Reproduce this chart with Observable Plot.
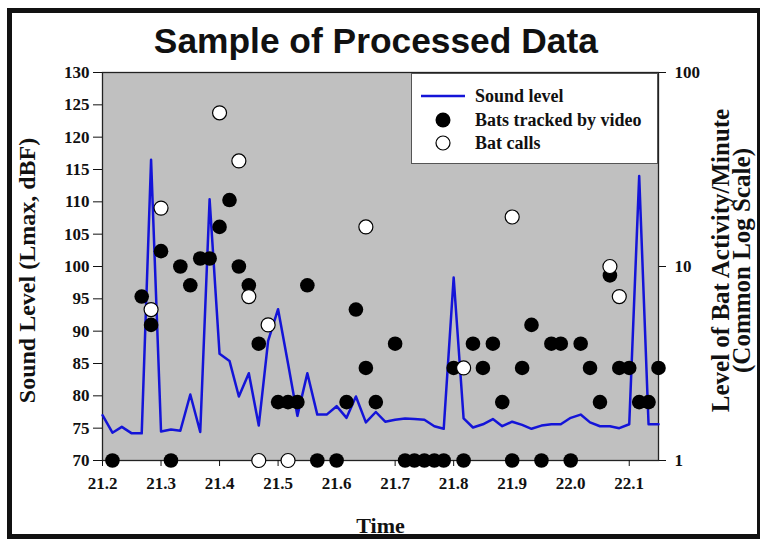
<!DOCTYPE html>
<html>
<head>
<meta charset="utf-8">
<script src="https://cdn.jsdelivr.net/npm/d3@7"></script>
<script src="https://cdn.jsdelivr.net/npm/@observablehq/plot@0.6"></script>
<style>
  html, body { margin: 0; padding: 0; background: #fff; }
  #wrap { position: relative; width: 762px; height: 540px; overflow: hidden; background: #fff; }
  #border { position: absolute; left: 7px; top: 8px; width: 753px; height: 531px; box-sizing: border-box;
            border: 5px solid #111; border-right-width: 3px; pointer-events: none; }
  #title { position: absolute; left: 0; top: 23px; width: 751px; text-align: center;
           font-family: "Liberation Sans", Arial, sans-serif; font-weight: bold; font-size: 35px; line-height: 35px; color: #111; }
  #title span { display: inline-block; transform: scaleX(1.01); }
  #chart { position: absolute; left: 0; top: 62px; }
  #legend { position: absolute; left: 411px; top: 73px; width: 247px; height: 91px; box-sizing: border-box;
            background: #fff; border: 1px solid #555; }
  #legend svg text { font-family: "Liberation Serif", "Times New Roman", serif; font-weight: bold; font-size: 18px; fill: #111; }
</style>
</head>
<body>
<div id="wrap">
  <div id="title"><span>Sample of Processed Data</span></div>
  <div id="chart"></div>
  <div id="legend">
    <svg width="245" height="89">
      <line x1="9" x2="53" y1="22" y2="22" stroke="#1414d8" stroke-width="2.5"></line>
      <circle cx="31" cy="46" r="7.5" fill="#000"></circle>
      <circle cx="31" cy="69" r="7" fill="#fff" stroke="#000" stroke-width="1.2"></circle>
      <text x="63" y="28">Sound level</text>
      <text x="63" y="52">Bats tracked by video</text>
      <text x="63" y="75">Bat calls</text>
    </svg>
  </div>
  <div id="border"></div>
</div>
<script>
// Sound level (Lmax, dBF), one reading per minute
const soundTime = [21.200, 21.217, 21.233, 21.250, 21.267, 21.283, 21.300, 21.317, 21.333, 21.350,
  21.367, 21.383, 21.400, 21.417, 21.433, 21.450, 21.467, 21.483, 21.500, 21.517,
  21.533, 21.550, 21.567, 21.583, 21.600, 21.617, 21.633, 21.650, 21.667, 21.683,
  21.700, 21.717, 21.733, 21.750, 21.767, 21.783, 21.800, 21.817, 21.833, 21.850,
  21.867, 21.883, 21.900, 21.917, 21.933, 21.950, 21.967, 21.983, 22.000, 22.017,
  22.033, 22.050, 22.067, 22.083, 22.100, 22.117, 22.133, 22.150];
const soundLevel = [77.0, 74.3, 75.2, 74.2, 74.2, 116.5, 74.5, 74.8, 74.6, 80.2,
  74.4, 110.4, 86.5, 85.4, 79.9, 83.5, 75.4, 88.5, 93.4, 85.0,
  76.9, 83.5, 77.1, 77.1, 78.4, 76.6, 79.9, 75.9, 77.5, 76.0,
  76.3, 76.5, 76.4, 76.3, 75.3, 74.9, 98.3, 76.5, 75.1, 75.6,
  76.4, 75.3, 76.0, 75.5, 74.9, 75.4, 75.6, 75.6, 76.6, 77.1,
  75.9, 75.3, 75.3, 75.0, 75.6, 114.0, 75.6, 75.6];

// Bats tracked by video (per minute)
const videoTime = [21.217, 21.267, 21.283, 21.300, 21.317, 21.333, 21.350, 21.367, 21.383, 21.400,
  21.417, 21.433, 21.450, 21.467, 21.500, 21.517, 21.533, 21.550, 21.567, 21.600,
  21.617, 21.633, 21.650, 21.667, 21.700, 21.717, 21.733, 21.750, 21.767, 21.783,
  21.800, 21.817, 21.833, 21.850, 21.867, 21.883, 21.900, 21.917, 21.933, 21.950,
  21.967, 21.983, 22.000, 22.017, 22.033, 22.050, 22.067, 22.083, 22.100, 22.117,
  22.133, 22.150];
const videoCount = [1, 7, 5, 12, 1, 10, 8, 11, 11, 16,
  22, 10, 8, 4, 2, 2, 2, 8, 1, 1,
  2, 6, 3, 2, 4, 1, 1, 1, 1, 1,
  3, 1, 4, 3, 4, 2, 1, 3, 5, 1,
  4, 4, 1, 4, 3, 2, 9, 3, 3, 2,
  2, 3];

// Bat calls (per minute)
const callTime = [21.283, 21.300, 21.400, 21.433, 21.450, 21.467, 21.483, 21.517, 21.650, 21.817, 21.900, 22.067, 22.083];
const callCount = [6, 20, 62, 35, 7, 1, 5, 1, 16, 3, 18, 10, 7];

// Axis ticks
const timeTicks = [21.2, 21.3, 21.4, 21.5, 21.6, 21.7, 21.8, 21.9, 22.0, 22.1];
const soundTicks = [70, 75, 80, 85, 90, 95, 100, 105, 110, 115, 120, 125, 130];
const activityTicks = [1, 10, 100];

// Right axis is a common-log scale (1..100) sharing the left axis range (70..130)
const toLeft = c => 70 + 30 * Math.log10(c);
const fromLeft = v => Math.round(Math.pow(10, (v - 70) / 30));

const sound = soundTime.map((t, i) => ({t, v: soundLevel[i]}));
const video = videoTime.map((t, i) => ({t, c: videoCount[i]}));
const calls = callTime.map((t, i) => ({t, c: callCount[i]}));

const serif = "'Liberation Serif', 'Times New Roman', serif";

const chart = Plot.plot({
  width: 762,
  height: 478,
  marginLeft: 102,
  marginRight: 104,
  marginTop: 10,
  marginBottom: 80,
  style: {fontFamily: serif, fontWeight: "bold", fontSize: "17px", color: "#111", background: "transparent", overflow: "visible"},
  x: {domain: [21.2, 22.15]},
  y: {domain: [70, 130]},
  marks: [
    Plot.frame({fill: "#c0c0c0", stroke: "#222", strokeWidth: 1.3}),
    Plot.axisX({ticks: timeTicks, tickFormat: d => d.toFixed(1), tickSize: 6, tickPadding: 10, label: null, fontSize: 17, fontWeight: "bold"}),
    Plot.axisY({anchor: "left", ticks: soundTicks, tickSize: 9, tickPadding: 4, label: null, fontSize: 17, fontWeight: "bold"}),
    Plot.axisY({anchor: "right", ticks: activityTicks.map(toLeft), tickFormat: fromLeft, tickSize: 7, tickPadding: 9, label: null, fontSize: 17, fontWeight: "bold"}),
    Plot.line(sound, {x: "t", y: "v", stroke: "#1414d8", strokeWidth: 2.5}),
    Plot.dot(video, {x: "t", y: d => toLeft(d.c), r: 7.3, fill: "#000"}),
    Plot.dot(calls, {x: "t", y: d => toLeft(d.c), r: 7, fill: "#fff", stroke: "#000", strokeWidth: 1.2}),
    Plot.text(["Sound Level (Lmax, dBF)"], {text: d => d, frameAnchor: "left", dx: -75, dy: 4, rotate: -90,
      textAnchor: "middle", lineAnchor: "middle", fontSize: 24, fontWeight: "bold"}),
    Plot.text(["Level of Bat Activity/Minute\n(Common Log Scale)"], {text: d => d, frameAnchor: "right", dx: 74, dy: -6, rotate: -90,
      textAnchor: "middle", lineAnchor: "middle", lineHeight: 0.86, fontSize: 25, fontWeight: "bold"}),
    Plot.text(["Time"], {text: d => d, frameAnchor: "bottom", dy: 65, textAnchor: "middle", lineAnchor: "middle", fontSize: 22, fontWeight: "bold"})
  ]
});
document.getElementById("chart").appendChild(chart);
</script>
</body>
</html>
